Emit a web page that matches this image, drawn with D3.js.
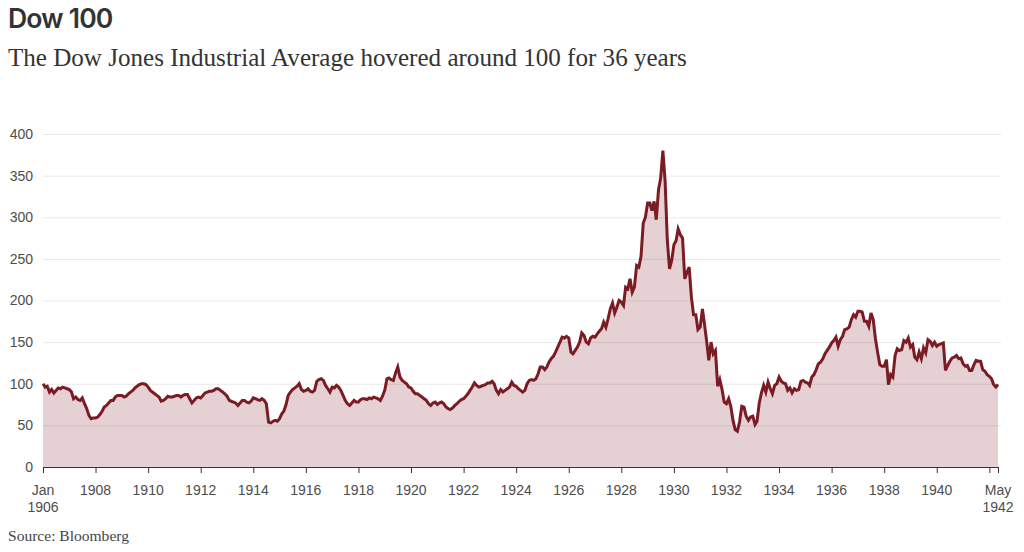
<!DOCTYPE html>
<html><head><meta charset="utf-8">
<script src="https://cdn.jsdelivr.net/npm/d3@7"></script>
<style>body{margin:0;background:#fff}svg{display:block}</style>
</head><body>
<svg id="chart" width="1024" height="552"></svg>
<script>
// ---- data (monthly DJIA, Jan 1906 – May 1942) ----
const startYear = 1906;
const values1906_1915 = [
  100, 96, 97, 90, 93, 89, 92, 95, 94, 96, 95, 94,
  93, 90, 82, 84, 81, 80, 83, 76, 70, 62, 58, 59,
  59, 60, 63, 67, 72, 74, 77, 80, 80, 84, 86, 86,
  86, 84, 85, 88, 90, 92, 95, 97, 99, 100, 100, 99,
  96, 92, 90, 88, 86, 84, 79, 80, 82, 85, 84, 84,
  85, 86, 86, 84, 86, 87, 87, 82, 77, 80, 83, 84,
  83, 86, 89, 90, 91, 91, 92, 94, 94, 92, 90, 88,
  85, 80, 79, 78, 77, 74, 77, 80, 80, 78, 77, 79,
  83, 82, 81, 80, 82, 80, 76, 54, 53, 55, 56, 55,
  58, 64, 67, 75, 86, 90, 93, 95, 97, 100, 93, 91
];
const values1916_1925 = [
  92, 94, 91, 90, 92, 103, 105, 106, 104, 98, 94, 90,
  96, 95, 98, 96, 92, 86, 80, 76, 74, 77, 80, 78,
  78, 81, 82, 82, 81, 83, 82, 84, 83, 82, 80, 85,
  92, 106, 107, 105, 104, 113, 120, 108, 104, 102, 100, 96,
  95, 91, 88, 88, 86, 84, 82, 80, 76, 74, 77, 78,
  75, 77, 78, 76, 72, 70, 69, 71, 74, 76, 79, 81,
  82, 85, 88, 92, 96, 101, 98, 96, 97, 98, 99, 101,
  101, 103, 100, 92, 88, 93, 90, 92, 94, 96, 102, 98,
  97, 94, 92, 90, 92, 100, 104, 105, 104, 106, 112, 120,
  120, 117, 120, 126, 130, 133, 138, 144, 150, 156, 155, 157
];
const values1926_1935 = [
  155, 138, 136, 140, 144, 150, 161, 158, 150, 148, 155, 157,
  156, 160, 163, 166, 174, 168, 178, 190, 197, 185, 192, 200,
  198, 194, 216, 214, 226, 210, 216, 242, 240, 253, 293, 300,
  317, 317, 308, 319, 297, 333, 347, 380, 343, 273, 238, 248,
  267, 272, 286, 279, 275, 226, 234, 240, 204, 183, 183, 165,
  168, 190, 172, 151, 128, 150, 136, 140, 97, 105, 93, 78,
  76, 82, 73, 56, 45, 43, 54, 73, 72, 61, 56, 60,
  61, 51, 55, 77, 89, 98, 90, 102, 94, 88, 98, 100,
  108, 103, 101, 100, 92, 95, 89, 94, 92, 93, 103, 104,
  102, 101, 98, 108, 111, 117, 124, 126, 130, 136, 140, 144
];
const values1936_1942 = [
  149, 152, 156, 145, 153, 157, 165, 166, 168, 177, 183, 180,
  187, 187, 186, 175, 175, 169, 185, 177, 154, 138, 123, 121,
  121, 129, 99, 111, 108, 134, 142, 140, 141, 152, 150, 155,
  144, 147, 132, 129, 138, 130, 143, 137, 153, 151, 146, 150,
  145, 147, 148, 149, 116, 122, 127, 131, 132, 134, 130, 131,
  124, 121, 122, 116, 116, 123, 128, 127, 127, 117, 115, 111,
  109, 106, 99, 96, 99
];
const yTickValues = [0, 50, 100, 150, 200, 250, 300, 350, 400];
const xTickYears = [1908, 1910, 1912, 1914, 1916, 1918, 1920, 1922, 1924, 1926, 1928, 1930, 1932, 1934, 1936, 1938, 1940, 1942];
const titleText = "Dow 100";
const subtitleText = "The Dow Jones Industrial Average hovered around 100 for 36 years";
const sourceText = "Source: Bloomberg";

// ---- build ----
const values = [].concat(values1906_1915, values1916_1925, values1926_1935, values1936_1942);
const data = values.map((v, i) => ({ date: new Date(startYear, i, 1), value: v }));

const svg = d3.select("#chart");
const plotLeft = 43, plotRight = 998, plotTop = 134, plotBottom = 467;
const lineColor = "#7b1b24";

const x = d3.scaleTime().domain([data[0].date, data[data.length - 1].date]).range([plotLeft, plotRight]);
const y = d3.scaleLinear().domain([0, 400]).range([plotBottom, plotTop]);

function fit(sel, target) {
  const w = sel.node().getComputedTextLength();
  const fs = +sel.attr("font-size");
  if (w > 0) sel.attr("font-size", (fs * target / w).toFixed(2));
}

// title
const t = svg.append("text").attr("x", 8).attr("y", 28)
  .attr("font-family", "Inter, Roboto, sans-serif").attr("font-weight", 600)
  .attr("font-size", 24).attr("fill", "#333").attr("letter-spacing", -0.8).text(titleText);
const st = svg.append("text").attr("x", 8).attr("y", 66)
  .attr("font-family", "'Liberation Serif', 'DejaVu Serif', serif")
  .attr("font-size", 22).attr("fill", "#333").text(subtitleText);
fit(t, 104);
fit(st, 679);

// area + gridlines + line
const area = d3.area().x(d => x(d.date)).y0(y(0)).y1(d => y(d.value));
svg.append("path").datum(data).attr("d", area).attr("fill", lineColor).attr("fill-opacity", 0.2);

svg.append("g").selectAll("line").data(yTickValues.filter(v => v > 0)).join("line")
  .attr("x1", plotLeft).attr("x2", 1001)
  .attr("y1", d => y(d) + 0.5).attr("y2", d => y(d) + 0.5)
  .attr("stroke", "#000").attr("stroke-opacity", 0.09).attr("stroke-width", 1);

const line = d3.line().x(d => x(d.date)).y(d => y(d.value));
svg.append("path").datum(data).attr("d", line).attr("fill", "none")
  .attr("stroke", lineColor).attr("stroke-width", 3).attr("stroke-linejoin", "miter");

// y labels
svg.append("g").selectAll("text").data(yTickValues).join("text")
  .attr("x", 33).attr("y", d => y(d)).attr("dy", "0.35em").attr("text-anchor", "end")
  .attr("font-family", "'Liberation Sans', Arial, sans-serif").attr("font-size", 14)
  .attr("fill", "#4d4d4d").text(d => d);

// x axis
const tickDates = [data[0].date, ...xTickYears.map(yr => new Date(yr, 0, 1)), data[data.length - 1].date];
const xAxis = d3.axisBottom(x).tickValues(tickDates).tickSize(6).tickSizeOuter(0).tickFormat("");
const gx = svg.append("g").attr("transform", `translate(0,${plotBottom})`).call(xAxis);
gx.select(".domain").attr("stroke", "#333");
gx.selectAll(".tick line").attr("stroke", "#333");
gx.selectAll(".tick text").remove();

const labels = tickDates.map((d, i) => {
  if (i === 0) return ["Jan", "1906"];
  if (i === tickDates.length - 1) return ["May", "1942"];
  const yr = d.getFullYear();
  return yr === 1942 ? [] : [String(yr)];
});
const lab = svg.append("g").attr("font-family", "'Liberation Sans', Arial, sans-serif")
  .attr("font-size", 14).attr("fill", "#4d4d4d").attr("text-anchor", "middle");
tickDates.forEach((d, i) => {
  labels[i].forEach((s, j) => {
    lab.append("text").attr("x", x(d)).attr("y", 495 + j * 17).text(s);
  });
});

// source
const src = svg.append("text").attr("x", 8).attr("y", 541)
  .attr("font-family", "'Liberation Serif', 'DejaVu Serif', serif")
  .attr("font-size", 14).attr("fill", "#444").text(sourceText);
fit(src, 121);
</script>
</body></html>
